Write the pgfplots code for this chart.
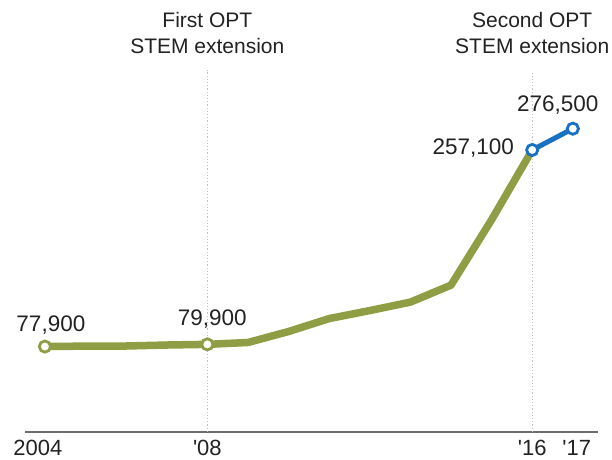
\documentclass[border=0pt]{standalone}
\usepackage{pgfplots}
\pgfplotsset{compat=1.18}
\usepackage{fontspec}
\setmainfont{Liberation Sans}[Ligatures=TeXOff]
\definecolor{olive}{RGB}{143,157,69}
\definecolor{wpblue}{RGB}{23,114,196}
\definecolor{txt}{RGB}{34,34,34}
\begin{document}
\begin{tikzpicture}[x=1pt,y=1pt]
\useasboundingbox (0,0) rectangle (612,459);
\begin{axis}[
  at={(25pt,27pt)}, anchor=south west,
  scale only axis, width=573pt, height=362pt,
  xmin=2003.51, xmax=2017.62, ymin=0, ymax=330000,
  axis x line=bottom, axis y line=none,
  axis line style={draw=gray!85!black, line width=1.5pt, -},
  xtick={2004,2008,2016,2017},
  xticklabels={{2004\hspace*{14pt}},'08,'16,{\hspace*{8pt}'17}},
  major tick length=0pt,
  xticklabel style={anchor=base, yshift=-23pt, font=\fontsize{22}{24}\selectfont, text=txt},
  ytick=\empty,
  clip=false,
]
\draw[gray!50, dotted, line width=1.2pt] (axis cs:2008,0) -- (axis cs:2008,330000);
\draw[gray!50, dotted, line width=1.2pt] (axis cs:2016,0) -- (axis cs:2016,327000);
\addplot[olive, line width=7.5pt, line join=round, line cap=round] coordinates {
(2004,77900) (2005,78300) (2006,78400) (2007,79300) (2008,79900) (2009,81600)
(2010,91600) (2011,103400) (2012,110700) (2013,118400) (2014,133900) (2015,193500) (2016,257100)};
\addplot[only marks, mark=*, mark size=5.6pt, mark options={fill=white, draw=olive, line width=2.8pt}] coordinates {(2004,77900) (2008,79900)};
\addplot[wpblue, line width=5pt, mark=*, mark size=5.6pt, mark options={fill=white, draw=wpblue, line width=2.8pt}] coordinates {(2016,257100) (2017,276500)};
\node[anchor=base, text=txt, font=\fontsize{22.5}{24}\selectfont] at ([xshift=6pt,yshift=15pt]axis cs:2004,77900) {77,900};
\node[anchor=base, text=txt, font=\fontsize{22.5}{24}\selectfont] at ([xshift=5pt,yshift=19pt]axis cs:2008,79900) {79,900};
\node[anchor=base east, text=txt, font=\fontsize{22.5}{24}\selectfont, inner sep=0pt] at ([xshift=-18pt,yshift=-5pt]axis cs:2016,257100) {257,100};
\node[anchor=base, text=txt, font=\fontsize{22.5}{24}\selectfont] at ([xshift=-15pt,yshift=17pt]axis cs:2017,276500) {276,500};
\node[anchor=base, text=txt, font=\fontsize{21}{24}\selectfont, inner sep=0pt] at ([yshift=404pt]axis cs:2008,0) {First OPT};
\node[anchor=base, text=txt, font=\fontsize{21}{24}\selectfont, inner sep=0pt] at ([yshift=379pt]axis cs:2008,0) {STEM extension};
\node[anchor=base, text=txt, font=\fontsize{21}{24}\selectfont, inner sep=0pt] at ([yshift=404pt]axis cs:2016,0) {Second OPT};
\node[anchor=base, text=txt, font=\fontsize{21}{24}\selectfont, inner sep=0pt] at ([yshift=379pt]axis cs:2016,0) {STEM extension};
\end{axis}
\end{tikzpicture}
\end{document}
